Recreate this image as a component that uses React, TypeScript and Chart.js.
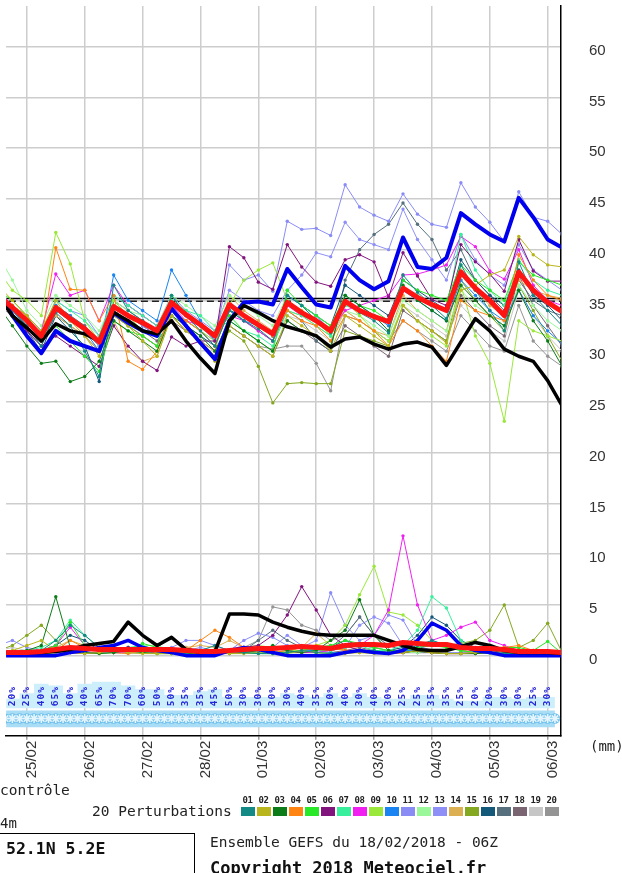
import { useEffect, useRef } from "react";
import { Chart, registerables } from "chart.js";

Chart.register(...registerables);

// 6-hourly steps (0 = 24/02 18Z)
const STEPS = [-1, 0, 1, 2, 3, 4, 5, 6, 7, 8, 9, 10, 11, 12, 13, 14, 15, 16, 17, 18, 19, 20, 21, 22, 23, 24, 25, 26, 27, 28, 29, 30, 31, 32, 33, 34, 35, 36, 37, 38];
const DAY_TICKS = [1, 5, 9, 13, 17, 21, 25, 29, 33, 37];
const DAY_LABELS = ["25/02", "26/02", "27/02", "28/02", "01/03", "02/03", "03/03", "04/03", "05/03", "06/03"];
const Y_TICKS = [0, 5, 10, 15, 20, 25, 30, 35, 40, 45, 50, 55, 60];

const PROB_STEPS = [0, 1, 2, 3, 4, 5, 6, 7, 8, 9, 10, 11, 12, 13, 14, 15, 16, 17, 18, 19, 20, 21, 22, 23, 24, 25, 26, 27, 28, 29, 30, 31, 32, 33, 34, 35, 36, 37];
const PROB = [20, 25, 40, 65, 60, 40, 65, 70, 70, 60, 50, 50, 35, 35, 45, 50, 30, 30, 30, 30, 40, 35, 30, 40, 30, 40, 30, 25, 25, 35, 35, 25, 20, 20, 30, 30, 25, 30];
const SNOW = [1, 1, 1, 1, 1, 1, 1, 1, 1, 1, 1, 1, 1, 1, 1, 1, 1, 1, 1, 1, 1, 1, 1, 1, 1, 1, 1, 1, 1, 1, 1, 1, 1, 1, 1, 1, 1, 1];

const NORMAL_STEPS = [-1, 38];
const NORMAL_A = [35.18, 35.18];
const NORMAL_B = [34.92, 34.92];

// mean / control / operational (upper variable)
const MEAN_T = [35.5, 34.3, 33.0, 31.5, 34.3, 33.2, 32.2, 30.9, 34.4, 33.5, 32.8, 32.0, 34.8, 33.6, 32.6, 31.5, 34.6, 33.5, 32.6, 31.7, 34.8, 33.8, 33.0, 32.0, 34.9, 34.0, 33.4, 32.9, 36.2, 35.3, 34.6, 34.0, 37.8, 36.2, 35.0, 33.5, 37.8, 36.0, 34.8, 33.9];
const CTRL_T = [35.5, 33.5, 32.3, 31.0, 32.7, 32.0, 31.7, 31.0, 33.8, 33.0, 32.0, 31.7, 33.0, 31.0, 29.3, 27.8, 33.0, 34.5, 33.8, 33.0, 32.4, 32.0, 31.5, 30.4, 31.2, 31.4, 30.7, 30.2, 30.7, 30.9, 30.4, 28.6, 30.9, 33.2, 32.0, 30.2, 29.5, 29.0, 27.1, 24.6];
const OPER_T = [35.8, 33.5, 31.5, 29.8, 32.0, 31.0, 30.5, 30.0, 33.8, 32.8, 32.0, 31.5, 34.2, 32.5, 30.8, 29.2, 33.0, 34.8, 34.9, 34.6, 38.1, 36.3, 34.6, 34.3, 38.4, 37.0, 36.1, 36.9, 41.2, 38.3, 38.1, 39.2, 43.6, 42.5, 41.5, 40.8, 45.1, 43.2, 41.0, 40.2];

// precipitation (mm)
const MEAN_P = [0.3, 0.3, 0.3, 0.4, 0.6, 0.8, 0.7, 0.6, 0.6, 0.6, 0.6, 0.6, 0.6, 0.5, 0.4, 0.4, 0.5, 0.6, 0.7, 0.7, 0.8, 0.9, 0.8, 0.7, 1.0, 1.1, 1.1, 1.0, 1.3, 1.2, 1.1, 1.1, 0.8, 0.7, 0.7, 0.6, 0.4, 0.4, 0.4, 0.3];
const CTRL_P = [0.3, 0.3, 0.3, 0.3, 0.4, 0.6, 1.0, 1.2, 1.4, 3.3, 2.0, 1.0, 1.8, 0.6, 0.3, 0.4, 4.1, 4.1, 4.0, 3.3, 2.8, 2.4, 2.1, 2.0, 2.0, 2.0, 2.0, 1.5, 1.0, 0.6, 0.5, 0.5, 0.9, 1.3, 1.0, 0.5, 0.3, 0.3, 0.3, 0.2];
const OPER_P = [0.0, 0.0, 0.0, 0.0, 0.0, 0.3, 0.5, 0.8, 1.0, 1.5, 0.8, 0.5, 0.3, 0.0, 0.0, 0.0, 0.5, 0.8, 0.6, 0.3, 0.0, 0.0, 0.0, 0.0, 0.3, 0.5, 0.3, 0.2, 0.5, 1.5, 3.2, 2.5, 1.0, 0.5, 0.3, 0.0, 0.0, 0.0, 0.0, 0.0];

// 20 perturbations, upper variable
const T01 = [35.8, 34.0, 32.5, 30.5, 33.8, 32.5, 30.0, 27.5, 36.5, 34.0, 33.0, 31.5, 35.5, 33.5, 32.0, 30.5, 34.0, 33.0, 32.2, 31.0, 35.5, 34.5, 33.0, 31.8, 35.0, 33.8, 33.0, 31.8, 37.5, 35.8, 34.5, 33.2, 38.5, 36.0, 34.0, 32.0, 38.8, 35.5, 34.0, 32.5];
const T02 = [36.5, 35.0, 33.5, 32.0, 35.0, 33.0, 31.5, 29.5, 34.0, 32.5, 31.0, 29.5, 33.5, 32.0, 31.0, 29.0, 32.5, 31.5, 30.5, 29.5, 33.5, 32.5, 31.5, 30.0, 33.5, 32.5, 31.5, 30.5, 34.5, 33.0, 32.0, 30.8, 36.0, 36.5, 37.5, 38.0, 41.3, 39.5, 38.5, 38.3];
const T03 = [34.5, 32.5, 30.5, 28.8, 29.0, 27.0, 27.5, 29.0, 33.0, 32.0, 31.0, 30.0, 33.5, 32.5, 31.5, 30.0, 33.0, 32.0, 31.0, 30.0, 33.0, 32.0, 31.5, 30.5, 35.5, 34.5, 33.5, 32.0, 36.5, 35.0, 34.0, 33.0, 36.5, 35.0, 33.5, 32.5, 36.0, 33.0, 31.0, 28.5];
const T04 = [35.0, 34.5, 33.5, 31.0, 40.2, 36.1, 36.0, 33.0, 35.5, 29.0, 28.2, 30.0, 34.0, 33.0, 32.0, 30.5, 34.5, 33.5, 32.5, 31.5, 34.0, 33.0, 32.5, 31.0, 33.5, 33.0, 32.0, 30.5, 33.0, 32.0, 30.5, 29.0, 35.0, 34.0, 33.5, 33.0, 39.5, 37.0, 35.5, 35.0];
const T05 = [36.0, 35.0, 33.5, 31.5, 32.5, 31.0, 29.5, 28.0, 33.0, 32.0, 31.5, 30.5, 35.5, 33.5, 32.5, 31.5, 33.5, 32.0, 31.0, 30.0, 36.0, 34.5, 33.5, 32.5, 35.5, 34.5, 34.0, 33.0, 37.0, 36.0, 35.5, 35.0, 38.5, 37.0, 36.0, 35.0, 38.8, 37.5, 37.0, 36.5];
const T06 = [35.0, 33.5, 32.0, 30.5, 31.5, 30.5, 29.5, 28.5, 32.5, 30.5, 29.0, 28.1, 31.4, 30.5, 31.0, 31.0, 40.3, 39.2, 36.8, 36.1, 40.5, 38.3, 36.8, 36.4, 39.0, 39.5, 38.8, 35.3, 39.7, 37.4, 35.1, 34.5, 40.5, 38.8, 37.6, 35.9, 41.0, 37.9, 36.9, 36.9];
const T07 = [35.5, 34.5, 33.5, 32.0, 35.0, 34.0, 33.0, 31.5, 35.5, 34.5, 33.5, 32.5, 35.0, 34.0, 33.5, 32.0, 33.0, 32.0, 31.5, 30.5, 34.0, 33.5, 32.5, 31.5, 34.5, 34.0, 33.5, 33.0, 36.0, 35.5, 34.5, 34.0, 41.5, 38.0, 36.0, 34.5, 39.0, 37.0, 36.0, 35.5];
const T08 = [36.0, 34.5, 33.5, 32.0, 37.6, 35.5, 36.0, 33.0, 36.5, 34.5, 33.5, 32.5, 34.5, 33.0, 32.5, 31.5, 33.5, 33.0, 32.0, 31.0, 34.5, 33.5, 33.0, 32.0, 34.0, 34.5, 35.0, 35.5, 37.5, 37.6, 38.0, 38.5, 41.3, 40.3, 37.9, 37.1, 40.0, 36.5, 35.0, 34.5];
const T09 = [38.0, 36.0, 35.0, 33.5, 41.7, 38.6, 33.0, 31.0, 35.0, 33.5, 32.0, 31.5, 34.0, 33.0, 32.0, 31.0, 34.5, 37.0, 38.0, 38.7, 35.0, 34.0, 33.0, 31.5, 35.0, 33.5, 32.0, 31.0, 34.5, 33.0, 31.5, 30.5, 36.5, 31.5, 28.8, 23.1, 33.0, 32.0, 31.5, 31.0];
const T10 = [35.5, 34.0, 32.5, 31.0, 34.5, 33.5, 32.0, 30.0, 37.5, 35.0, 34.0, 33.0, 38.0, 35.5, 33.0, 31.0, 34.0, 33.0, 32.5, 31.5, 35.5, 34.5, 33.5, 32.0, 35.5, 34.5, 33.5, 32.5, 36.0, 35.0, 34.0, 33.0, 37.0, 35.5, 34.0, 33.0, 36.0, 33.5, 32.0, 30.7];
const T11 = [36.0, 34.5, 33.0, 31.0, 34.0, 33.0, 32.0, 30.5, 34.5, 33.5, 32.5, 31.5, 35.0, 33.5, 32.5, 31.0, 38.5, 37.0, 37.5, 35.9, 42.8, 42.0, 42.1, 41.4, 46.4, 44.2, 43.4, 42.8, 45.5, 43.5, 42.5, 42.2, 46.6, 44.2, 42.7, 40.8, 45.7, 43.2, 42.8, 41.5];
const T12 = [39.5, 37.0, 34.0, 32.5, 35.5, 34.5, 33.5, 32.0, 35.0, 34.0, 33.5, 32.5, 35.5, 34.5, 33.5, 32.5, 35.5, 34.5, 33.5, 32.5, 35.5, 34.5, 33.5, 32.5, 34.0, 33.5, 32.5, 31.5, 35.0, 34.0, 33.0, 32.0, 36.0, 34.5, 33.5, 32.5, 36.5, 34.5, 33.0, 32.0];
const T13 = [35.0, 34.0, 32.5, 31.0, 35.0, 34.0, 33.5, 31.5, 35.5, 34.5, 33.5, 32.5, 35.5, 34.0, 33.0, 32.0, 36.0, 35.0, 34.0, 33.5, 36.0, 37.5, 39.7, 39.3, 42.7, 41.0, 40.5, 40.0, 44.0, 41.0, 39.0, 37.0, 41.5, 39.0, 37.5, 36.5, 40.5, 38.0, 37.0, 36.0];
const T14 = [36.0, 34.5, 33.0, 31.5, 33.5, 32.5, 31.5, 30.0, 33.0, 30.0, 29.0, 29.5, 33.5, 32.0, 31.0, 30.0, 35.5, 34.0, 33.0, 32.0, 34.0, 33.5, 32.5, 31.5, 34.0, 33.0, 32.0, 31.5, 35.5, 34.0, 33.0, 32.0, 38.0, 36.0, 34.5, 33.5, 37.0, 36.0, 35.5, 35.2];
const T15 = [35.5, 34.0, 32.5, 31.0, 34.0, 33.0, 32.0, 30.5, 33.5, 32.5, 31.5, 30.5, 33.5, 32.0, 31.0, 29.5, 32.0, 31.0, 28.5, 24.9, 26.8, 26.9, 26.8, 26.8, 32.0, 31.5, 31.0, 30.5, 34.5, 33.0, 32.0, 31.0, 37.0, 35.0, 33.5, 32.0, 36.5, 34.0, 31.5, 29.0];
const T16 = [35.0, 33.5, 32.0, 30.0, 33.5, 32.0, 30.5, 27.0, 35.0, 33.5, 32.5, 31.5, 34.0, 32.5, 31.5, 30.5, 34.0, 33.5, 32.5, 31.5, 35.5, 34.5, 33.5, 32.5, 36.5, 35.5, 34.5, 33.5, 37.0, 36.0, 35.0, 34.0, 39.0, 37.0, 35.5, 34.5, 38.0, 35.5, 34.5, 33.0];
const T17 = [35.0, 34.0, 32.5, 31.0, 34.5, 33.5, 32.5, 31.0, 35.0, 34.0, 33.0, 32.0, 34.0, 33.0, 32.0, 30.5, 34.5, 33.0, 32.0, 31.0, 34.0, 33.0, 31.0, 30.0, 37.0, 40.0, 41.5, 42.5, 44.6, 42.5, 41.0, 38.0, 40.0, 37.0, 35.5, 34.0, 37.0, 35.0, 34.0, 33.5];
const T18 = [35.5, 34.0, 32.5, 31.0, 33.5, 32.5, 31.5, 30.0, 34.0, 33.0, 32.0, 31.0, 33.0, 32.0, 31.0, 30.0, 32.5, 31.5, 30.5, 29.5, 33.0, 32.0, 31.0, 30.0, 32.5, 31.5, 30.5, 29.5, 34.0, 33.0, 32.0, 31.0, 35.5, 34.0, 32.5, 31.5, 37.5, 34.5, 32.5, 30.5];
const T19 = [35.0, 34.0, 33.0, 31.5, 34.5, 33.5, 32.5, 31.0, 34.5, 33.5, 32.5, 31.5, 34.0, 33.0, 32.0, 31.0, 34.0, 33.0, 32.0, 31.0, 33.5, 33.0, 32.0, 31.0, 34.0, 33.0, 32.0, 31.0, 34.5, 33.5, 32.5, 31.5, 34.5, 33.0, 32.0, 31.0, 36.0, 33.5, 31.5, 30.0];
const T20 = [34.5, 33.5, 32.0, 30.5, 34.0, 33.0, 32.0, 30.5, 33.5, 32.5, 31.5, 30.5, 33.5, 32.0, 31.0, 30.0, 32.5, 31.5, 30.5, 30.2, 30.5, 30.5, 28.8, 26.1, 33.5, 33.0, 32.0, 31.0, 33.0, 32.0, 31.0, 30.0, 33.5, 32.0, 30.5, 30.0, 34.5, 31.0, 29.5, 28.5];

// 20 perturbations, precipitation
const R01 = [0.5, 0.3, 0.2, 0.5, 1.5, 3.0, 2.0, 0.8, 0.5, 0.5, 0.8, 0.5, 0.3, 0.2, 0.5, 1.0, 0.5, 0.3, 0.2, 0.2, 0.3, 0.5, 0.3, 0.2, 0.3, 0.5, 0.5, 0.3, 0.5, 1.0, 1.5, 1.0, 0.8, 0.5, 0.3, 0.2, 0.2, 0.2, 0.2, 0.2];
const R02 = [0.2, 0.5, 1.0, 1.5, 0.5, 0.3, 0.2, 0.3, 0.5, 0.3, 0.2, 0.2, 0.2, 0.3, 0.5, 0.3, 0.2, 0.2, 0.3, 0.2, 0.2, 0.5, 0.3, 0.2, 0.2, 0.3, 0.2, 0.2, 0.3, 0.5, 0.3, 0.2, 0.2, 0.3, 0.5, 0.5, 0.5, 0.5, 0.3, 0.2];
const R03 = [0.3, 0.2, 0.5, 1.0, 5.8, 0.8, 0.3, 0.2, 0.3, 0.5, 0.3, 0.2, 0.2, 0.2, 0.3, 0.3, 0.2, 0.3, 0.5, 1.0, 0.5, 0.3, 0.5, 1.5, 2.5, 5.5, 2.0, 0.5, 0.3, 0.5, 0.3, 0.2, 0.2, 0.2, 0.3, 0.2, 0.2, 0.2, 0.2, 0.1];
const R04 = [0.2, 0.2, 0.3, 0.3, 0.5, 1.5, 0.8, 0.5, 0.3, 0.2, 0.5, 0.3, 0.3, 0.5, 1.5, 2.5, 1.8, 0.8, 0.5, 0.3, 0.5, 0.8, 1.0, 0.8, 0.5, 0.5, 0.3, 0.2, 0.3, 0.5, 0.3, 0.2, 0.2, 0.3, 0.5, 0.8, 1.0, 0.5, 0.3, 0.2];
const R05 = [0.2, 0.3, 0.5, 0.5, 1.0, 3.3, 1.0, 0.5, 0.5, 0.5, 1.2, 0.8, 0.3, 0.2, 0.2, 0.3, 0.5, 0.3, 0.2, 0.2, 0.3, 0.5, 0.8, 1.0, 1.5, 1.2, 0.8, 0.5, 0.5, 0.8, 1.0, 0.8, 0.5, 0.3, 0.5, 0.8, 0.8, 0.5, 1.4, 0.2];
const R06 = [0.2, 0.2, 0.3, 0.3, 0.5, 0.3, 0.2, 0.3, 0.5, 0.8, 0.5, 0.3, 0.3, 0.2, 0.3, 0.5, 0.5, 0.8, 1.0, 2.0, 4.0, 6.8, 4.5, 2.0, 1.0, 0.5, 0.3, 0.2, 0.3, 0.5, 0.3, 0.2, 0.2, 0.2, 0.3, 0.2, 0.2, 0.2, 0.2, 0.1];
const R07 = [0.3, 0.3, 0.5, 0.8, 1.5, 3.5, 2.0, 0.8, 0.5, 0.8, 1.0, 0.5, 0.3, 0.3, 0.5, 0.3, 0.3, 0.5, 0.3, 0.3, 0.5, 0.8, 0.5, 0.5, 0.8, 1.0, 0.5, 0.5, 1.0, 2.5, 5.8, 4.7, 1.5, 0.5, 0.3, 0.2, 0.2, 0.3, 0.2, 0.2];
const R08 = [0.3, 0.3, 0.3, 0.5, 1.0, 2.8, 1.0, 0.5, 0.3, 0.3, 0.5, 0.3, 0.3, 0.3, 0.3, 0.2, 0.2, 0.3, 0.5, 0.8, 0.5, 0.3, 0.3, 0.5, 0.8, 1.0, 2.0, 4.5, 11.8, 5.0, 1.5, 2.0, 2.8, 3.3, 1.5, 1.0, 0.5, 0.3, 0.2, 0.1];
const R09 = [0.3, 0.3, 0.3, 0.3, 0.5, 0.3, 0.3, 0.2, 0.3, 0.5, 0.3, 0.2, 0.2, 0.3, 0.5, 0.5, 0.5, 0.8, 1.0, 0.8, 0.5, 0.5, 1.0, 1.5, 3.0, 6.0, 8.8, 4.3, 4.0, 3.0, 1.5, 0.8, 0.5, 0.3, 0.3, 0.2, 0.2, 0.2, 0.2, 0.1];
const R10 = [0.3, 0.3, 0.3, 0.3, 0.5, 0.5, 0.3, 0.3, 0.5, 0.8, 0.5, 0.3, 0.3, 0.3, 0.3, 0.3, 0.3, 0.5, 0.3, 0.3, 0.3, 0.5, 0.5, 0.3, 0.3, 0.5, 0.3, 0.3, 0.5, 0.5, 1.5, 1.0, 0.5, 0.3, 0.3, 0.2, 0.2, 0.2, 0.2, 0.1];
const R11 = [1.0, 1.5, 0.8, 0.5, 0.3, 0.3, 0.3, 0.3, 0.3, 0.3, 0.3, 0.5, 0.8, 1.5, 1.5, 1.0, 0.5, 1.5, 2.2, 1.8, 1.0, 0.8, 1.5, 6.2, 3.0, 1.5, 2.0, 4.0, 3.5, 1.0, 0.5, 0.3, 0.3, 0.3, 0.3, 0.2, 0.2, 0.2, 0.2, 0.1];
const R12 = [0.3, 0.3, 0.3, 0.3, 0.3, 0.5, 0.3, 0.3, 0.3, 0.5, 1.0, 1.0, 0.5, 0.3, 0.3, 0.3, 0.3, 0.3, 0.3, 0.3, 0.3, 0.5, 0.3, 0.3, 0.3, 0.5, 0.8, 0.5, 0.3, 0.3, 0.5, 0.3, 0.3, 0.3, 0.2, 0.2, 0.2, 0.2, 0.2, 0.1];
const R13 = [0.3, 0.3, 0.3, 0.3, 0.3, 0.3, 0.3, 0.3, 0.3, 0.3, 0.3, 0.3, 0.3, 0.5, 0.8, 0.5, 0.3, 0.5, 0.5, 0.8, 2.0, 1.0, 0.8, 0.5, 0.8, 3.0, 3.8, 3.2, 1.0, 0.5, 0.5, 0.3, 0.3, 0.3, 0.3, 0.2, 0.2, 0.2, 0.2, 0.1];
const R14 = [0.2, 0.3, 0.3, 0.5, 0.8, 1.5, 1.0, 0.5, 0.5, 0.3, 0.3, 0.5, 0.5, 0.8, 1.0, 0.8, 1.5, 0.8, 0.5, 0.3, 0.5, 0.8, 2.2, 1.0, 0.5, 0.3, 0.3, 0.3, 0.3, 0.5, 0.3, 0.3, 0.3, 0.5, 0.8, 0.5, 0.3, 0.2, 0.2, 0.1];
const R15 = [0.5, 1.0, 2.0, 3.0, 1.5, 0.5, 0.3, 0.3, 0.3, 0.3, 0.3, 0.3, 0.3, 0.3, 0.3, 0.3, 0.3, 0.3, 0.3, 0.3, 0.3, 0.3, 0.3, 0.3, 0.3, 0.3, 0.3, 0.5, 0.5, 0.8, 1.0, 1.0, 1.2, 1.5, 2.5, 5.0, 0.8, 1.5, 3.2, 0.3];
const R16 = [0.3, 0.3, 0.3, 0.5, 1.0, 2.0, 1.5, 0.5, 0.3, 0.3, 0.3, 0.3, 0.3, 0.3, 0.3, 0.3, 0.3, 0.5, 0.3, 0.3, 0.3, 0.3, 0.5, 0.8, 1.5, 1.0, 0.8, 0.5, 0.8, 2.0, 3.8, 3.0, 1.5, 0.8, 0.5, 0.3, 0.2, 0.2, 0.2, 0.1];
const R17 = [0.3, 0.3, 0.3, 0.3, 0.3, 0.3, 0.5, 0.5, 0.3, 0.3, 0.3, 0.3, 0.3, 0.3, 0.3, 0.3, 0.3, 0.5, 1.5, 2.5, 1.5, 0.8, 0.5, 0.8, 2.0, 3.8, 2.0, 1.0, 0.5, 0.3, 0.3, 0.3, 0.3, 0.3, 0.3, 0.2, 0.2, 0.2, 0.2, 0.1];
const R18 = [0.3, 0.3, 0.3, 0.3, 0.3, 0.3, 0.3, 0.3, 0.5, 0.8, 0.5, 0.8, 1.8, 0.8, 0.5, 0.3, 0.3, 0.3, 0.3, 0.3, 0.3, 0.5, 0.3, 0.3, 0.5, 0.8, 0.5, 0.3, 0.3, 0.3, 0.3, 0.3, 0.3, 0.3, 0.3, 0.2, 0.2, 0.2, 0.2, 0.1];
const R19 = [0.5, 0.8, 0.5, 0.3, 0.3, 0.3, 0.3, 0.3, 0.3, 0.5, 0.3, 0.3, 0.3, 0.3, 0.3, 0.3, 0.3, 0.3, 0.3, 0.3, 0.3, 0.3, 0.3, 0.3, 0.3, 0.5, 0.3, 0.3, 0.3, 0.3, 0.3, 0.3, 0.3, 0.3, 0.3, 0.3, 0.3, 0.3, 0.3, 0.3];
const R20 = [0.3, 0.3, 0.3, 0.3, 0.3, 0.5, 0.3, 0.3, 0.3, 0.3, 0.3, 0.3, 0.3, 0.3, 0.3, 0.5, 0.5, 0.8, 1.5, 4.8, 4.5, 3.0, 2.5, 1.5, 2.0, 3.8, 2.0, 0.5, 0.3, 0.3, 0.3, 0.3, 0.3, 0.3, 0.3, 0.2, 0.2, 0.2, 0.2, 0.1];

const MEMBER_NAMES = ["01", "02", "03", "04", "05", "06", "07", "08", "09", "10", "11", "12", "13", "14", "15", "16", "17", "18", "19", "20"];
const MEMBER_COLORS = ["#138a86", "#b8b61c", "#0c7c18", "#ff8412", "#28e828", "#82147e", "#38f09c", "#f020f0", "#9ae83a", "#1a84f2", "#8a8cf6", "#9af89a", "#8e90f8", "#dcb052", "#84a820", "#14587a", "#56707e", "#7a6672", "#c6c6c6", "#949494"];
const MEMBER_T = [T01, T02, T03, T04, T05, T06, T07, T08, T09, T10, T11, T12, T13, T14, T15, T16, T17, T18, T19, T20];
const MEMBER_P = [R01, R02, R03, R04, R05, R06, R07, R08, R09, R10, R11, R12, R13, R14, R15, R16, R17, R18, R19, R20];

// layout constants (value units of the shared y axis)
const X_MIN = -0.435;
const X_MAX = 37.92;
const Y_MIN = -7.89;
const Y_MAX = 64.0;
const PROB_LABEL_Y = -4.0;
const PROB_BASE = -5.18;
const PROB_SCALE = 0.0371;
const SNOW_Y = -6.2;
const SNOW_TOP = -5.4;
const SNOW_BOTTOM = -7.05;

const MONO = '"DejaVu Sans Mono", "Liberation Mono", monospace';
const SANS = '"Liberation Sans", Arial, sans-serif';

const pts = (vals: number[]) => vals.map((v, i) => ({ x: STEPS[i], y: v }));

const thin = (vals: number[], color: string) => ({
  data: pts(vals),
  borderColor: color,
  backgroundColor: color,
  borderWidth: 1,
  pointRadius: 1.7,
  pointBorderWidth: 0,
  pointBackgroundColor: color,
  fill: false,
  tension: 0,
});

const thick = (vals: number[], color: string, w: number) => ({
  data: pts(vals),
  borderColor: color,
  backgroundColor: color,
  borderWidth: w,
  pointRadius: 0,
  fill: false,
  tension: 0,
  borderJoinStyle: "round" as const,
});

const probLabels = {
  id: "probLabels",
  afterDatasetsDraw(chart: any) {
    const { ctx, scales } = chart;
    const x = scales.x;
    const y = scales.y;
    ctx.save();
    ctx.font = `bold 9.5px ${MONO}`;
    (ctx as any).letterSpacing = "1px";
    ctx.fillStyle = "#2424d8";
    ctx.textAlign = "center";
    ctx.textBaseline = "middle";
    const yc = y.getPixelForValue(PROB_LABEL_Y);
    PROB.forEach((p, i) => {
      const xp = x.getPixelForValue(PROB_STEPS[i]);
      ctx.save();
      ctx.translate(xp, yc);
      ctx.rotate(-Math.PI / 2);
      ctx.fillText(`${p}%`, 0, 0);
      ctx.restore();
    });
    ctx.restore();
  },
};

function GefsChart() {
  const ref = useRef<HTMLCanvasElement | null>(null);

  useEffect(() => {
    if (!ref.current) return;

    const datasets: any[] = [];
    datasets.push(thick(MEAN_T, "#ff1414", 5));
    datasets.push(thick(MEAN_P, "#ff1414", 5));
    datasets.push(thick(CTRL_T, "#000000", 3.5));
    datasets.push(thick(CTRL_P, "#000000", 3.5));
    datasets.push(thick(OPER_T, "#0000ee", 4));
    datasets.push(thick(OPER_P, "#0000ee", 3.5));
    MEMBER_T.forEach((vals, i) => datasets.push(thin(vals, MEMBER_COLORS[i])));
    MEMBER_P.forEach((vals, i) => datasets.push(thin(vals, MEMBER_COLORS[i])));

    datasets.push({
      data: NORMAL_A.map((v, i) => ({ x: NORMAL_STEPS[i], y: v })),
      borderColor: "#000",
      borderWidth: 1.5,
      pointRadius: 0,
      fill: false,
    });
    datasets.push({
      data: NORMAL_B.map((v, i) => ({ x: NORMAL_STEPS[i], y: v })),
      borderColor: "#222",
      borderWidth: 1.5,
      borderDash: [7, 4],
      pointRadius: 0,
      fill: false,
    });

    // snow symbols
    const snowPts: { x: number; y: number }[] = [];
    SNOW.forEach((s, i) => {
      if (s) {
        snowPts.push({ x: PROB_STEPS[i] - 0.5, y: SNOW_Y });
        snowPts.push({ x: PROB_STEPS[i], y: SNOW_Y });
      }
    });
    snowPts.push({ x: PROB_STEPS[PROB_STEPS.length - 1] + 0.5, y: SNOW_Y });
    datasets.push({
      data: snowPts,
      showLine: false,
      pointStyle: "star",
      pointRadius: 4.5,
      borderColor: "#e4f5fd",
      borderWidth: 1.6,
      backgroundColor: "#e4f5fd",
    });
    datasets.push({
      data: snowPts,
      showLine: false,
      pointStyle: "circle",
      pointRadius: 5.2,
      borderWidth: 0,
      backgroundColor: "#6ec0ec",
    });
    datasets.push({
      data: [
        { x: PROB_STEPS[0] - 0.5, y: SNOW_TOP },
        { x: PROB_STEPS[PROB_STEPS.length - 1] + 0.5, y: SNOW_TOP },
      ],
      borderWidth: 0,
      pointRadius: 0,
      backgroundColor: "#a9dcf5",
      fill: { value: SNOW_BOTTOM },
    });

    // probability band
    const bandPts = PROB.map((p, i) => ({ x: PROB_STEPS[i] - 0.5, y: PROB_BASE + p * PROB_SCALE }));
    bandPts.push({ x: PROB_STEPS[PROB_STEPS.length - 1] + 0.5, y: PROB_BASE + PROB[PROB.length - 1] * PROB_SCALE });
    datasets.push({
      data: bandPts,
      stepped: "after",
      borderWidth: 0,
      pointRadius: 0,
      backgroundColor: "#cdeefb",
      fill: { value: PROB_BASE },
    });

    const chart = new Chart(ref.current, {
      type: "line",
      data: { datasets },
      plugins: [probLabels],
      options: {
        animation: false,
        responsive: false,
        events: [],
        layout: { padding: 0 },
        plugins: { legend: { display: false }, tooltip: { enabled: false } },
        scales: {
          x: {
            type: "linear",
            bounds: "data",
            min: X_MIN,
            max: X_MAX,
            position: "bottom",
            afterBuildTicks: (axis: any) => {
              axis.ticks = DAY_TICKS.map((v) => ({ value: v }));
            },
            afterFit: (axis: any) => {
              axis.height = 54.3;
              axis.paddingLeft = 0;
              axis.paddingRight = 0;
            },
            grid: { color: "#cdcdcd", lineWidth: 1.5, tickLength: 4, tickColor: "#9a9a9a" },
            border: { color: "#000", width: 1.5 },
            ticks: {
              autoSkip: false,
              minRotation: 90,
              maxRotation: 90,
              padding: 1,
              labelOffset: 5,
              color: "#333",
              font: { family: SANS, size: 15 },
              callback: (value: any) => {
                const i = DAY_TICKS.indexOf(Number(value));
                return i >= 0 ? DAY_LABELS[i] : "";
              },
            },
          },
          y: {
            type: "linear",
            bounds: "data",
            position: "right",
            min: Y_MIN,
            max: Y_MAX,
            afterBuildTicks: (axis: any) => {
              axis.ticks = Y_TICKS.map((v) => ({ value: v }));
            },
            afterFit: (axis: any) => {
              axis.width = 61;
              axis.paddingTop = 0;
              axis.paddingBottom = 0;
            },
            grid: {
              drawTicks: false,
              lineWidth: 1.5,
              color: "#cdcdcd",
            },
            border: { color: "#000", width: 1.5 },
            ticks: {
              autoSkip: false,
              padding: 28,
              labelOffset: 4,
              color: "#333",
              font: { family: SANS, size: 15 },
              callback: (v: any) => String(v),
            },
          },
        },
      } as any,
    });
    return () => chart.destroy();
  }, []);

  return <canvas ref={ref} width={622} height={790} style={{ position: "absolute", left: 0, top: 0 }} />;
}

const txt = (extra: React.CSSProperties): React.CSSProperties => ({
  position: "absolute",
  fontFamily: MONO,
  color: "#222",
  whiteSpace: "nowrap",
  ...extra,
});

export default function App() {
  return (
    <div
      style={{
        position: "absolute",
        left: 0,
        top: 0,
        width: 622,
        height: 873,
        background: "#fff",
        overflow: "hidden",
      }}
    >
      <GefsChart />
      <div style={txt({ left: 590, top: 738, fontSize: 14, lineHeight: "16px" })}>(mm)</div>
      <div style={txt({ left: 0, top: 782, fontSize: 14.5, lineHeight: "16px" })}>contrôle</div>
      {MEMBER_NAMES.map((n, i) => (
        <div
          key={"n" + n}
          style={txt({
            left: 240 + i * 16,
            top: 795,
            width: 15,
            textAlign: "center",
            fontSize: 9,
            fontWeight: "bold",
            lineHeight: "10px",
            letterSpacing: "-0.3px",
          })}
        >
          {n}
        </div>
      ))}
      <div style={txt({ left: 92, top: 803, fontSize: 14.5, lineHeight: "16px" })}>20 Perturbations</div>
      {MEMBER_COLORS.map((c, i) => (
        <div
          key={"c" + i}
          style={{ position: "absolute", left: 241 + i * 16, top: 807, width: 13.5, height: 9, background: c }}
        />
      ))}
      <div style={txt({ left: 0, top: 815, fontSize: 14, lineHeight: "16px" })}>4m</div>
      <div
        style={{
          position: "absolute",
          left: -2,
          top: 833,
          width: 197,
          height: 60,
          border: "1px solid #000",
          boxSizing: "border-box",
        }}
      />
      <div style={txt({ left: 6, top: 840, fontSize: 16.5, fontWeight: "bold", lineHeight: "18px", color: "#111" })}>
        52.1N 5.2E
      </div>
      <div style={txt({ left: 210, top: 834, fontSize: 14.5, lineHeight: "16px" })}>
        Ensemble GEFS du 18/02/2018 - 06Z
      </div>
      <div style={txt({ left: 210, top: 859, fontSize: 17, fontWeight: "bold", lineHeight: "18px", color: "#111" })}>
        Copyright 2018 Meteociel.fr
      </div>
    </div>
  );
}
